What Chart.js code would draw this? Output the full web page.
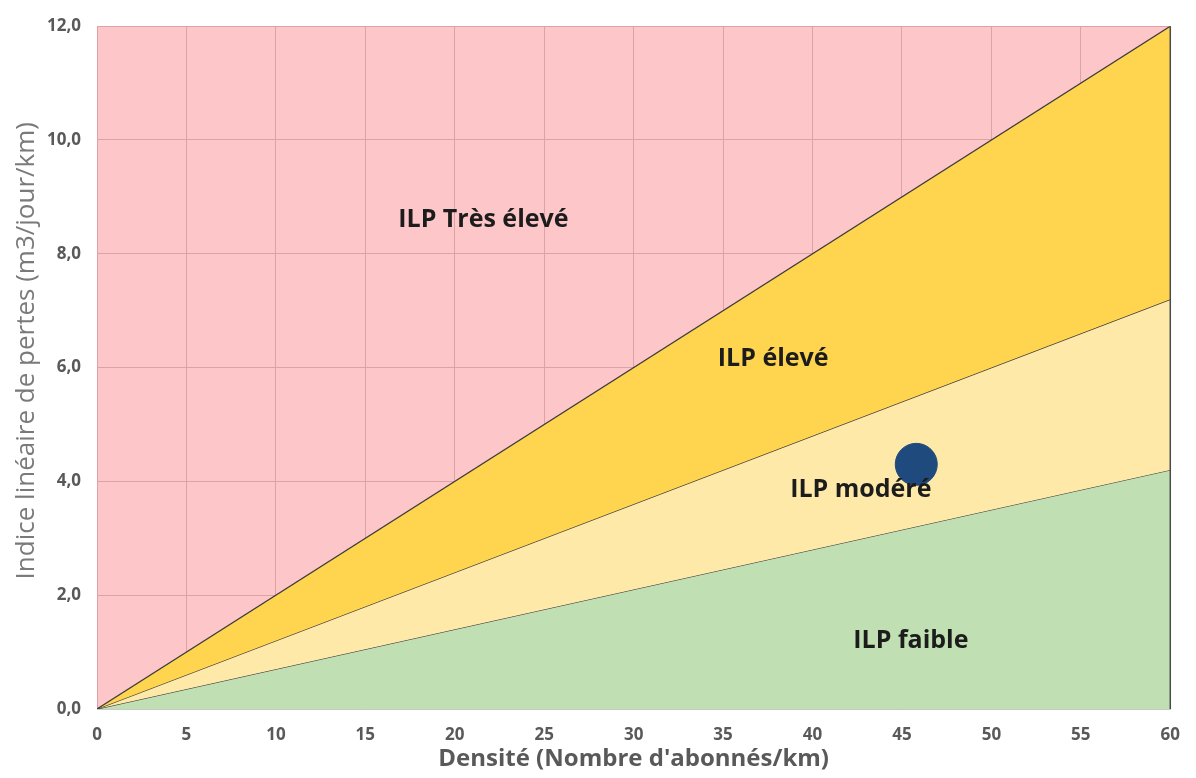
<!DOCTYPE html>
<html>
<head>
<meta charset="utf-8">
<script src="https://cdn.jsdelivr.net/npm/chart.js@4.4.0/dist/chart.umd.min.js"></script>
<style>
  html, body { margin: 0; padding: 0; background: #fff; overflow: hidden; }
  canvas { display: block; }
</style>
</head>
<body>
<canvas id="ilpChart" width="1196" height="778"></canvas>
<script>
// density range (abonnés/km)
const densites = [0, 60];
// ILP boundaries at each density
const limiteTresEleve = [0, 12];
const limiteEleve = [0, 7.2];
const limiteModere = [0, 4.2];
// measured point
const pointDensite = [45.8];
const pointIlp = [4.3];
// zone labels: text, x, y
const zoneTextes = ['ILP Très élevé', 'ILP élevé', 'ILP modéré', 'ILP faible'];
const zoneX = [21.6, 37.8, 42.7, 45.5];
const zoneY = [8.6, 6.15, 3.85, 1.2];

const xTicks = [0, 5, 10, 15, 20, 25, 30, 35, 40, 45, 50, 55, 60];
const yTicks = [0, 2, 4, 6, 8, 10, 12];

function pts(xs, ys) {
    return xs.map(function(x, i){ return {x: x, y: ys[i]}; });
}

//pink background + labels + right edge
const zonesPlugin = {
    id: 'zones',
    beforeDraw: function(chart){
        const a = chart.chartArea, ctx = chart.ctx;
        ctx.save();
        ctx.fillStyle = '#fdc6c8';
        ctx.fillRect(a.left, a.top, a.right - a.left, a.bottom - a.top);
        ctx.restore();
    },
    afterDatasetsDraw: function(chart){
        const a = chart.chartArea, ctx = chart.ctx;
        const xs = chart.scales.x, ys = chart.scales.y;
        ctx.save();
        ctx.strokeStyle = '#4a4a4a';
        ctx.lineWidth = 1.5;
        ctx.beginPath();
        ctx.moveTo(a.right, a.top);
        ctx.lineTo(a.right, a.bottom);
        ctx.stroke();
        ctx.fillStyle = '#1c1c1c';
        ctx.font = 'bold 25px "Open Sans"';
        ctx.textAlign = 'center';
        ctx.textBaseline = 'middle';
        zoneTextes.forEach(function(t, i){
            ctx.fillText(t, xs.getPixelForValue(zoneX[i]), ys.getPixelForValue(zoneY[i]));
        });
        ctx.restore();
    }
};

const ctx = document.getElementById('ilpChart');

const chart = new Chart(ctx, {
    type: 'line',
    data: {
        datasets: [
            {
                type: 'scatter',
                data: pts(pointDensite, pointIlp),
                backgroundColor: '#1f4a7e',
                borderColor: '#1f4a7e',
                pointRadius: 21,
                pointHoverRadius: 21,
                order: -1
            },
            {
                data: pts(densites, limiteTresEleve),
                borderColor: '#3b3b3b',
                borderWidth: 1.2,
                backgroundColor: '#ffd54f',
                fill: '+1',
                pointRadius: 0
            },
            {
                data: pts(densites, limiteEleve),
                borderColor: '#3b3b3b',
                borderWidth: 1.2,
                backgroundColor: '#fee9a8',
                fill: '+1',
                pointRadius: 0
            },
            {
                data: pts(densites, limiteModere),
                borderColor: '#3b3b3b',
                borderWidth: 1.2,
                backgroundColor: '#c0e0b3',
                fill: 'origin',
                pointRadius: 0
            }
        ]
    },
    options: {
        responsive: false,
        animation: false,
        layout: { autoPadding: false, padding: { top: 22, right: 12 } },
        plugins: {
            legend: { display: false },
            tooltip: { enabled: false }
        },
        scales: {
            x: {
                type: 'linear',
                min: 0,
                max: 60,
                afterBuildTicks: function(s){ s.ticks = xTicks.map(function(v){ return {value: v}; }); },
                afterFit: function(s){ s.height = 69; },
                grid: { color: '#dca3a7', drawTicks: false },
                border: { color: '#c8c8c8' },
                ticks: {
                    color: '#595959',
                    padding: 16,
                    font: { family: 'Open Sans', size: 17, weight: 'bold' }
                },
                title: {
                    display: true,
                    text: "Densité (Nombre d'abonnés/km)",
                    color: '#595959',
                    padding: { top: 2 },
                    font: { family: 'Open Sans', size: 24, weight: 'bold' }
                }
            },
            y: {
                min: 0,
                max: 12,
                afterBuildTicks: function(s){ s.ticks = yTicks.map(function(v){ return {value: v}; }); },
                afterFit: function(s){ s.width = 97; },
                grid: { color: '#dca3a7', drawTicks: false },
                border: { display: false },
                ticks: {
                    color: '#595959',
                    padding: 16,
                    font: { family: 'Open Sans', size: 17, weight: 'bold' },
                    callback: function(v){ return v.toFixed(1).replace('.', ','); }
                },
                title: {
                    display: true,
                    text: '\u00a0\u00a0\u00a0\u00a0\u00a0Indice linéaire de pertes (m3/jour/km)',
                    color: '#7a7a7a',
                    padding: { top: 11 },
                    font: { family: 'Open Sans', size: 26 }
                }
            }
        }
    },
    plugins: [zonesPlugin]
});
</script>
</body>
</html>
